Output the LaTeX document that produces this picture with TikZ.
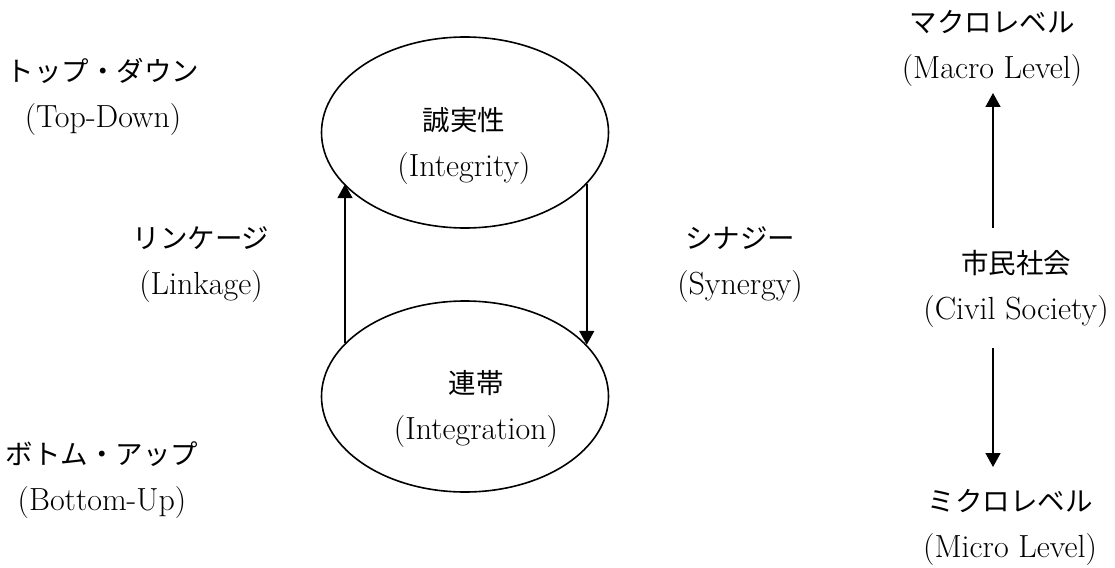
\documentclass[tikz,border=0pt]{standalone}
\usepackage{fontspec}
\newfontfamily\jpfont{Noto Sans CJK JP}
\usepackage{tikz}
\usetikzlibrary{arrows.meta,calc,positioning,shapes.geometric}
\newcommand{\jtext}[1]{{\jpfont\fontsize{27.5}{45}\selectfont #1}}
\tikzset{
  bubble/.style = {draw, ellipse, line width=1.6pt, minimum width=287pt,
                   minimum height=191pt, inner sep=0pt},
  lbl/.style    = {align=center, inner sep=0pt, font=\fontsize{32}{46}\selectfont},
  vec/.style    = {-{Triangle[length=14pt,width=15pt]}, line width=1.6pt},
}
\begin{document}
\begin{tikzpicture}[x=1pt,y=-1pt]
  \useasboundingbox (0,0) rectangle (1115,567);
  % the two circles of the cycle
  \node[bubble] (integ) at (465,132.5) {};
  \node[bubble] (unity) at (465,396.5) {};
  \node[lbl] (integ-txt) at (464,146) {\jtext{誠実性}\\(Integrity)};
  \node[lbl] (unity-txt) at (476,409) {\jtext{連帯}\\(Integration)};
  \draw[vec] (unity.156.4) -- (unity.156.4 |- integ.203.6);
  \draw[vec] (integ.-23.6) -- (integ.-23.6 |- unity.23.6);
  % side labels
  \node[lbl] (topdown)  at (103,97)  {\jtext{トップ・ダウン}\\(Top-Down)};
  \node[lbl] (linkage)  at (201,265) {\jtext{リンケージ}\\(Linkage)};
  \node[lbl] (bottomup) at (102,480) {\jtext{ボトム・アップ}\\(Bottom-Up)};
  \node[lbl] (synergy)  at (740,265) {\jtext{シナジー}\\(Synergy)};
  % levels of civil society
  \node[lbl] (macro) at (992,48)   {\jtext{マクロレベル}\\(Macro Level)};
  \node[lbl] (civil) at (1016,289) {\jtext{市民社会}\\(Civil Society)};
  \node[lbl] (micro) at (1010,527) {\jtext{ミクロレベル}\\(Micro Level)};
  \coordinate (up-from)   at (993,228);
  \coordinate (up-to)     at (993,93);
  \coordinate (down-from) at (993,348);
  \coordinate (down-to)   at (993,467);
  \draw[vec] (up-from) -- (up-to);
  \draw[vec] (down-from) -- (down-to);
\end{tikzpicture}
\end{document}
